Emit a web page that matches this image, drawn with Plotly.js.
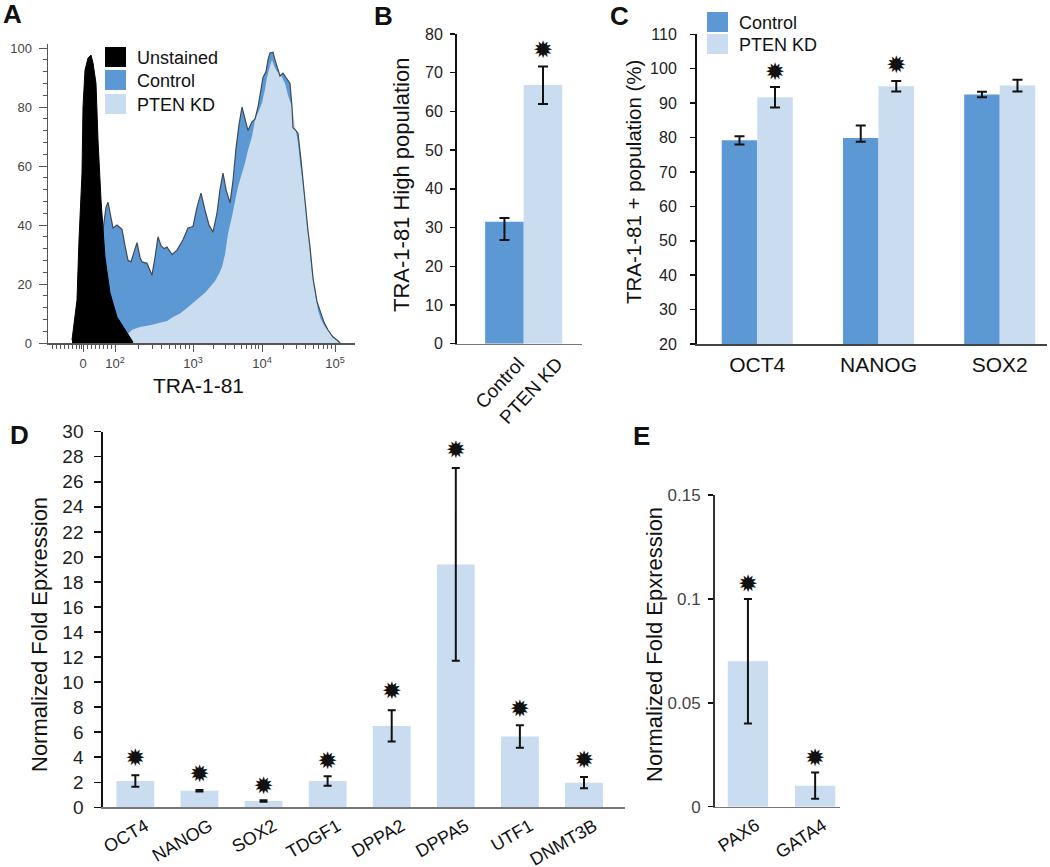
<!DOCTYPE html>
<html>
<head>
<meta charset="utf-8">
<script src="https://cdn.plot.ly/plotly-3.0.1.min.js"></script>
<style>
  html, body { margin: 0; padding: 0; background: #fff; }
  #chart { width: 1050px; height: 867px; }
</style>
</head>
<body>
<div id="chart"></div>
<script>
// ---- Panel A: TRA-1-81 histogram (x in display channel units) ----
const histNames = ['Unstained', 'Control', 'PTEN KD'];
const histUnstainedX = [24, 25, 29, 31, 34, 35, 37, 40, 43, 45, 48, 50, 53, 57, 62, 69, 79, 85];
const histUnstainedY = [1, 3.4, 14.6, 35, 57.6, 80, 92.5, 96.6, 97.6, 94.9, 88, 68.8, 48.5, 29, 17, 8.8, 3.4, 0.3];
const histControlX = [37, 52, 56, 58, 60, 62, 65, 69, 74, 77, 80, 83, 86, 89, 92, 94, 99, 104, 107, 110,
    113, 116, 119, 124, 129, 135, 140, 145, 149, 153, 157, 161, 165, 169, 172, 175, 178, 182, 185, 188,
    191, 194, 197, 200, 204, 207, 210, 215, 218, 220, 222, 225, 227, 229, 232, 235, 237, 240, 242, 244,
    245, 248, 250, 253, 257, 260, 262, 265, 269, 272, 276, 280, 285, 289, 292];
const histControlY = [0, 30, 41, 46, 47.7, 44, 39, 40, 38.5, 33, 28, 27.5, 31, 34, 29, 27.5, 27, 23, 29, 36,
    33, 32, 32.5, 30, 31.5, 35, 39, 39.5, 46, 50.8, 45, 40, 37.6, 44, 52, 57.6, 52, 47.5, 55, 66,
    74, 80, 76, 72, 75, 76, 80, 90, 92, 96, 98.3, 98.6, 96, 93.6, 90.5, 91.5, 90.5, 89, 88, 80,
    73, 72, 71, 62, 47.5, 38, 32.5, 22, 14, 11, 7, 4.4, 2, 1, 0];
const histPtenX = [70, 77, 84, 92, 102, 112, 119, 125, 132, 139, 145, 152, 157, 162, 167, 171, 174, 177, 180, 184,
    187, 190, 194, 197, 200, 204, 207, 210, 214, 217, 219, 222, 224, 226, 229, 232, 237, 240, 244, 247,
    250, 252, 255, 258, 260, 263, 265, 268, 270, 273, 277, 284, 290, 294];
const histPtenY = [0, 2, 4.5, 5.4, 6, 7, 7.5, 8.8, 10, 11.9, 13.5, 15.6, 17, 19, 21, 23.5, 25.8, 30, 37, 43,
    48.5, 53, 57.6, 61, 65.4, 70, 75.6, 78, 81.4, 86, 90, 94, 96, 94, 92, 91.5, 88, 84, 80, 74,
    67.8, 61, 54, 44, 36, 27, 21, 15, 11, 8, 5.4, 2.7, 1, 0];
const histTickVals = [35, 67, 145, 214, 287];
const histTickText = ['0', '10<sup>2</sup>', '10<sup>3</sup>', '10<sup>4</sup>', '10<sup>5</sup>'];

// ---- Panel B ----
const bGroups = ['Control', 'PTEN KD'];
const bValues = [31.5, 66.8];
const bErrPlus = [1.0, 4.8];
const bErrMinus = [4.7, 4.9];
const bStarY = [null, 75.4];

// ---- Panel C ----
const cGenes = ['OCT4', 'NANOG', 'SOX2'];
const cControl = [79.2, 79.9, 92.5];
const cControlErrPlus = [1.2, 3.6, 0.8];
const cControlErrMinus = [1.2, 1.1, 0.8];
const cPten = [91.7, 94.9, 95.1];
const cPtenErr = [3.0, 1.5, 1.7];
const cStarY = [98.6, 100.5, null];

// ---- Panel D ----
const dGenes = ['OCT4', 'NANOG', 'SOX2', 'TDGF1', 'DPPA2', 'DPPA5', 'UTF1', 'DNMT3B'];
const dValues = [2.1, 1.33, 0.5, 2.1, 6.5, 19.4, 5.65, 1.97];
const dErr = [0.45, 0.06, 0.06, 0.38, 1.25, 7.7, 0.9, 0.45];
const dStarY = [3.8, 2.5, 1.57, 3.5, 9.15, 28.4, 7.7, 3.65];

// ---- Panel E ----
const eGenes = ['PAX6', 'GATA4'];
const eValues = [0.07, 0.0101];
const eErr = [0.03, 0.0063];
const eStarY = [0.106, 0.0225];

const colControl = '#5c99d4';
const colPten = '#cadcf0';
const colOutline = '#3d4a57';
const STAR = '\u2739';
const FONT = 'Arial, "Liberation Sans", sans-serif';

const W = 1050, H = 867;
const fx = v => v / W;
const fy = v => 1 - v / H;

function starTrace(xs, ys, xa, ya) {
    const keep = ys.map((v, i) => i).filter(i => ys[i] !== null);
    return {
        x: keep.map(i => xs[i]), y: keep.map(i => ys[i]), xaxis: xa, yaxis: ya,
        mode: 'text', type: 'scatter', text: keep.map(() => STAR),
        textfont: { size: 24, color: '#111', family: '"DejaVu Sans", sans-serif' },
        textposition: 'middle center', cliponaxis: false, hoverinfo: 'skip'
    };
}

const traces = [];

// A
traces.push({
    x: histControlX, y: histControlY, xaxis: 'x', yaxis: 'y', type: 'scatter', mode: 'lines',
    fill: 'tozeroy', fillcolor: colControl, line: { width: 0, color: colControl }
});
traces.push({
    x: histPtenX, y: histPtenY, xaxis: 'x', yaxis: 'y', type: 'scatter', mode: 'lines',
    fill: 'tozeroy', fillcolor: colPten, line: { width: 0, color: colPten }
});
traces.push({
    x: histControlX, y: histControlY, xaxis: 'x', yaxis: 'y', type: 'scatter', mode: 'lines',
    line: { width: 1.2, color: colOutline }
});
traces.push({
    x: histUnstainedX, y: histUnstainedY, xaxis: 'x', yaxis: 'y', type: 'scatter', mode: 'lines',
    fill: 'tozeroy', fillcolor: '#000', line: { width: 1, color: '#000' }
});

// B
traces.push({
    x: bGroups, y: bValues, xaxis: 'x2', yaxis: 'y2', type: 'bar', width: 1,
    marker: { color: [colControl, colPten] },
    error_y: { type: 'data', array: bErrPlus, arrayminus: bErrMinus, color: '#111', thickness: 2, width: 5 }
});
traces.push(starTrace(bGroups, bStarY, 'x2', 'y2'));

// C
const cIdx = cGenes.map((g, i) => i);
const cBarW = 0.293;
traces.push({
    x: cIdx, y: cControl, xaxis: 'x3', yaxis: 'y3', type: 'bar', width: cBarW, offset: -cBarW,
    marker: { color: colControl }, name: 'Control',
    error_y: { type: 'data', array: cControlErrPlus, arrayminus: cControlErrMinus, color: '#111', thickness: 2, width: 5 }
});
traces.push({
    x: cIdx, y: cPten, xaxis: 'x3', yaxis: 'y3', type: 'bar', width: cBarW, offset: 0,
    marker: { color: colPten }, name: 'PTEN KD',
    error_y: { type: 'data', array: cPtenErr, color: '#111', thickness: 2, width: 5 }
});
traces.push(starTrace(cIdx.map(i => i + cBarW / 2), cStarY, 'x3', 'y3'));

// D
traces.push({
    x: dGenes, y: dValues, xaxis: 'x4', yaxis: 'y4', type: 'bar', width: 0.59,
    marker: { color: colPten },
    error_y: { type: 'data', array: dErr, color: '#111', thickness: 2, width: 4 }
});
traces.push(starTrace(dGenes, dStarY, 'x4', 'y4'));

// E
traces.push({
    x: eGenes, y: eValues, xaxis: 'x5', yaxis: 'y5', type: 'bar', width: 0.6,
    marker: { color: colPten },
    error_y: { type: 'data', array: eErr, color: '#111', thickness: 2, width: 4 }
});
traces.push(starTrace(eGenes, eStarY, 'x5', 'y5'));

// minor ticks for the flow axis
const histMinor = [4, 8, 12, 16, 20, 24, 28, 31, 33, 39, 43, 47, 51, 55, 59, 63];
for (let d = 1; d < histTickVals.length - 1; d++) {
    for (let k = 2; k < 10; k++) {
        histMinor.push(histTickVals[d] + Math.log10(k) * (histTickVals[d + 1] - histTickVals[d]));
    }
}

function yAx(extra) {
    return Object.assign({
        showline: true, linecolor: '#111', linewidth: 2, ticks: 'outside', ticklen: 5,
        tickwidth: 1.5, tickcolor: '#111', showgrid: false, zeroline: false,
        tickfont: { size: 16, color: '#222', family: FONT }
    }, extra);
}
function xAx(extra) {
    return Object.assign({
        showline: true, linecolor: '#777', linewidth: 1.5, ticks: '', showgrid: false, zeroline: false,
        tickfont: { size: 17, color: '#111', family: FONT }
    }, extra);
}

const layout = {
    width: W, height: H,
    margin: { l: 0, r: 0, t: 0, b: 0 },
    paper_bgcolor: '#fff', plot_bgcolor: 'rgba(0,0,0,0)',
    showlegend: false,
    barmode: 'overlay',
    font: { family: FONT, color: '#222' },
    xaxis: {
        domain: [fx(48), fx(355)], range: [0, 307], anchor: 'y',
        showline: true, linecolor: '#555', linewidth: 1.5, showgrid: false, zeroline: false,
        ticks: 'outside', ticklen: 7, tickcolor: '#555', tickmode: 'array',
        tickvals: histTickVals, ticktext: histTickText,
        tickfont: { size: 13, color: '#444', family: FONT }, ticklabelstandoff: 1,
        minor: { tickmode: 'array', tickvals: histMinor, ticks: 'outside', ticklen: 4, tickcolor: '#555' }
    },
    yaxis: {
        domain: [fy(343), fy(43.6)], range: [0, 101.5], anchor: 'x',
        showline: true, linecolor: '#555', linewidth: 1.5, showgrid: false, zeroline: false,
        ticks: 'outside', ticklen: 8, tickcolor: '#555', dtick: 20,
        tickfont: { size: 13, color: '#444', family: FONT }, ticklabelstandoff: 4,
        minor: { dtick: 4, ticks: 'outside', ticklen: 4, tickcolor: '#555' }
    },
    xaxis2: xAx({
        domain: [fx(457), fx(582)], range: [-1.23, 2.01], anchor: 'y2', type: 'category',
        tickangle: -47, ticklabelshift: 14, tickfont: { size: 19, color: '#111', family: FONT }
    }),
    yaxis2: yAx({ domain: [fy(343.7), fy(34)], range: [0, 80], dtick: 10, anchor: 'x2', ticklabelstandoff: 4 }),
    xaxis3: xAx({
        domain: [fx(697), fx(1047)], range: [-0.497, 2.39], anchor: 'y3', linecolor: '#444',
        tickmode: 'array', tickvals: cIdx, ticktext: cGenes,
        tickfont: { size: 21, color: '#111', family: FONT }, ticklabelstandoff: 1
    }),
    yaxis3: yAx({ domain: [fy(344), fy(34.3)], range: [20, 110], dtick: 10, anchor: 'x3', ticklabelstandoff: 10 }),
    xaxis4: xAx({
        domain: [fx(103.3), fx(625)], range: [-0.5, 7.64], anchor: 'y4', type: 'category',
        tickangle: -30, ticklabelshift: 10, tickfont: { size: 18, color: '#111', family: FONT }
    }),
    yaxis4: yAx({
        domain: [fy(807.3), fy(431.7)], range: [0, 30], dtick: 2, anchor: 'x4', ticklen: 7,
        tickfont: { size: 19, color: '#222', family: FONT }, ticklabelstandoff: 7
    }),
    xaxis5: xAx({
        domain: [fx(715), fx(840)], range: [-0.49, 1.37], anchor: 'y5', type: 'category',
        tickangle: -33, ticklabelshift: 8, tickfont: { size: 18, color: '#111', family: FONT }
    }),
    yaxis5: yAx({
        domain: [fy(806.7), fy(495)], range: [0, 0.15], tickvals: [0, 0.05, 0.1, 0.15], anchor: 'x5',
        linecolor: '#333', tickfont: { size: 17, color: '#444', family: FONT }, ticklabelstandoff: 4
    }),
    shapes: [],
    annotations: []
};

function label(text, x, y, size, opts) {
    layout.annotations.push(Object.assign({
        text: text, xref: 'paper', yref: 'paper', x: fx(x), y: fy(y),
        xanchor: 'center', yanchor: 'middle', showarrow: false,
        font: { size: size, color: '#111', family: FONT }
    }, opts || {}));
}

// panel letters
label('<b>A</b>', 12, 14, 26);
label('<b>B</b>', 383, 16, 26);
label('<b>C</b>', 619, 16, 26);
label('<b>D</b>', 19, 435, 26);
label('<b>E</b>', 641, 436, 26);

// axis titles
label('TRA-1-81', 198, 385, 21);
label('TRA-1-81 High population', 401, 185, 22, { textangle: -90 });
label('TRA-1-81 + population (%)', 634, 182, 20.5, { textangle: -90 });
label('Normalized Fold Epxression', 39, 635, 22, { textangle: -90 });
label('Normalized Fold Epxression', 654, 645, 22, { textangle: -90 });

// legends
function legendBox(x0, y0, x1, y1, color) {
    layout.shapes.push({
        type: 'rect', xref: 'paper', yref: 'paper', x0: fx(x0), x1: fx(x1), y0: fy(y1), y1: fy(y0),
        fillcolor: color, line: { width: 0 }
    });
}
const histColors = ['#000', colControl, colPten];
const histLegendY = [47, 70, 94];
histNames.forEach((n, i) => {
    legendBox(105, histLegendY[i], 126, histLegendY[i] + 20, histColors[i]);
    label(n, 135, histLegendY[i] + 11, 18, { xanchor: 'left' });
});
const cLegendY = [12, 34];
bGroups.forEach((n, i) => {
    legendBox(707, cLegendY[i], 728, cLegendY[i] + 20, i === 0 ? colControl : colPten);
    label(n, 737, cLegendY[i] + 11, 18, { xanchor: 'left' });
});

Plotly.newPlot('chart', traces, layout, { staticPlot: true });
</script>
</body>
</html>
